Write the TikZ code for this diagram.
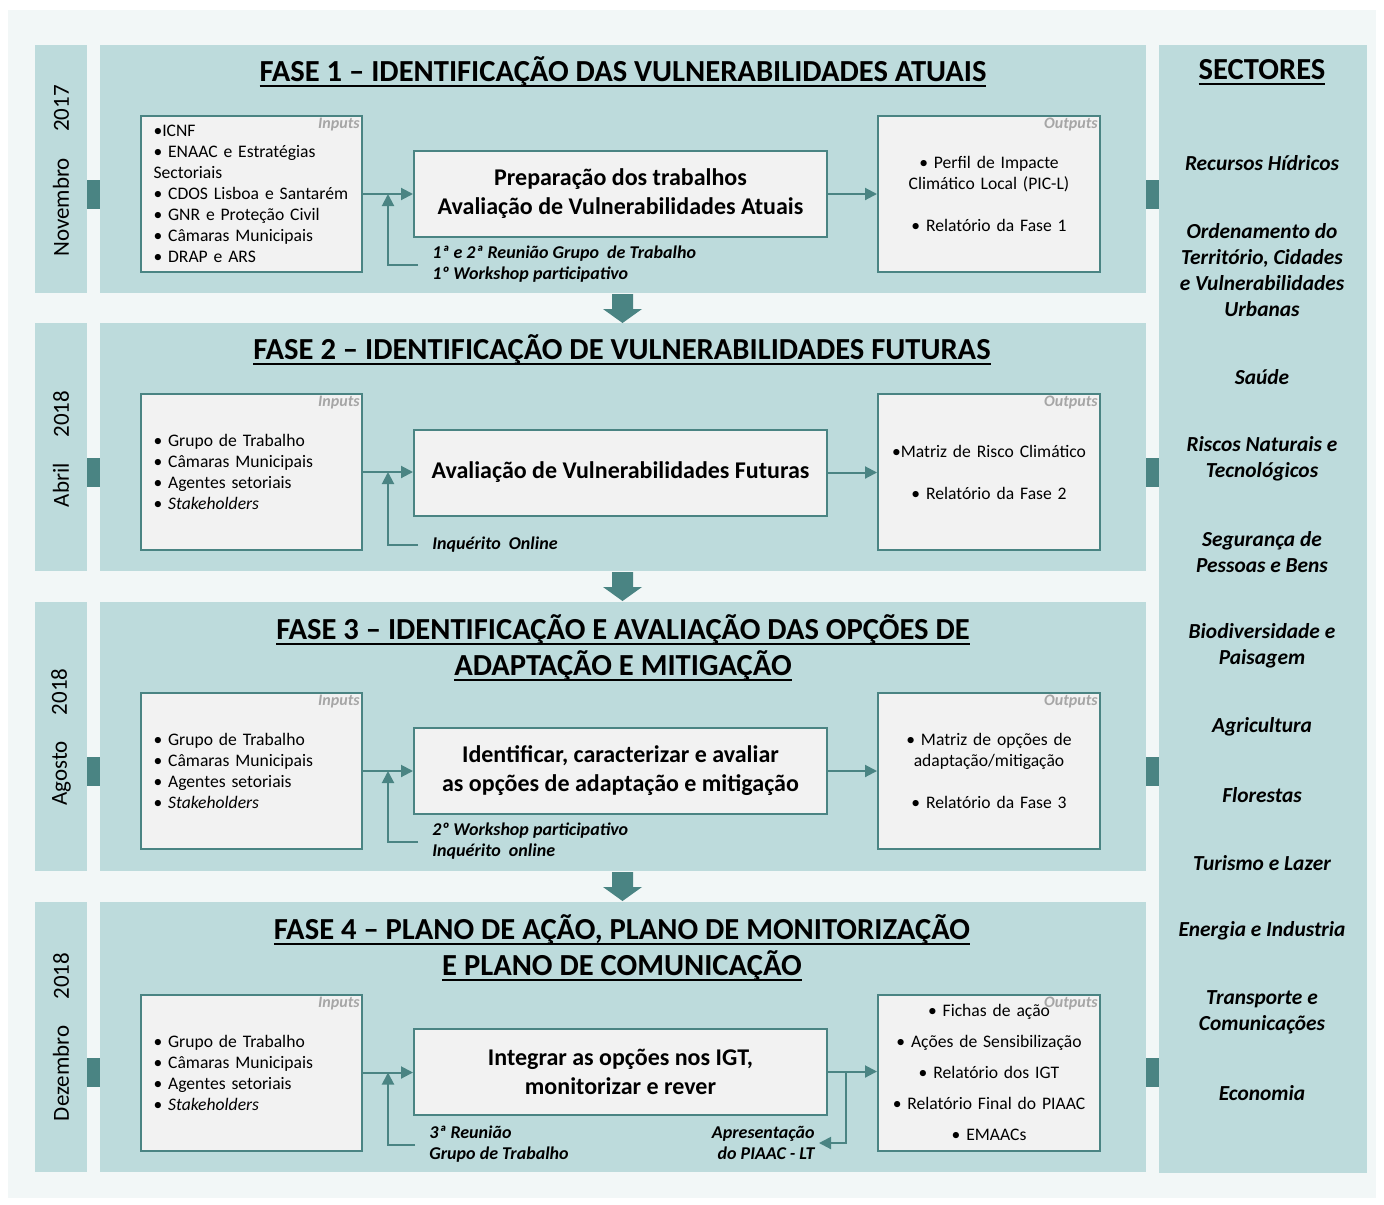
\documentclass[tikz,border=0pt]{standalone}
\usepackage{fontspec}
\setmainfont{Carlito}
\usetikzlibrary{arrows.meta,calc,positioning}

\definecolor{bgcol}{HTML}{F2F7F7}
\definecolor{panelcol}{HTML}{BDDBDC}
\definecolor{tealcol}{HTML}{4A8483}
\definecolor{boxcol}{HTML}{F2F2F2}
\definecolor{tagcol}{HTML}{A6A6A6}

\newcommand{\uln}[1]{\leavevmode\setbox0\hbox{#1}\rlap{\rule[-2.6pt]{\wd0}{1pt}}\box0}
\newcommand{\tightsp}{\spaceskip 0.17em plus 0.05em\relax}

\tikzset{
  inbox/.style={draw=tealcol, line width=1pt, fill=boxcol, minimum width=110.5pt, minimum height=78pt,
    text width=98pt, inner xsep=6.25pt, inner ysep=0pt, align=left,
    font=\fontsize{8.8}{10.5}\selectfont\tightsp},
  outbox/.style={draw=tealcol, line width=1pt, fill=boxcol, minimum width=111pt, minimum height=78pt,
    text width=105pt, inner xsep=3pt, inner ysep=0pt, align=center,
    font=\fontsize{8.8}{10.5}\selectfont\tightsp},
  midbox/.style={draw=tealcol, line width=1pt, fill=boxcol, minimum width=206.5pt, minimum height=43pt,
    align=center, font=\bfseries\fontsize{12}{14.5}\selectfont},
  tag/.style={anchor=north east, inner sep=1.5pt, text=tagcol, font=\bfseries\itshape\fontsize{8}{9}\selectfont},
  title/.style={align=center, font=\bfseries\fontsize{15.3}{18}\selectfont},
  sector/.style={align=center, font=\bfseries\itshape\fontsize{10.7}{13}\selectfont},
  date/.style={rotate=90, font=\fontsize{11.5}{13}\selectfont},
  note/.style={align=left, inner sep=2pt, font=\bfseries\itshape\fontsize{9}{10.5}\selectfont},
  flow/.style={draw=tealcol, line width=1pt, -{Triangle[length=6pt,width=6pt]}},
}

\begin{document}
\begin{tikzpicture}[x=0.5pt,y=-0.5pt]
\useasboundingbox (0,0) rectangle (1384,1204);
\fill[white] (0,0) rectangle (1384,1204);
\fill[bgcol] (8,10) rectangle (1376,1198);

\foreach \ya/\yb in {45/293, 323/571, 602/871, 902/1172}{
  \fill[panelcol] (35,\ya) rectangle (87,\yb);
  \fill[panelcol] (100,\ya) rectangle (1146,\yb);
}
\fill[panelcol] (1159,45) rectangle (1367,1173);
\foreach \y in {194,472,771,1072}{
  \fill[tealcol] (87,\y-14.5) rectangle (100,\y+14.5);
  \fill[tealcol] (1146,\y-14.5) rectangle (1159,\y+14.5);
}
\foreach \y in {294,572,872}{
  \fill[tealcol] (612,\y) -- (633,\y) -- (633,\y+15) -- (642,\y+15) -- (622.5,\y+29)
    -- (603,\y+15) -- (612,\y+15) -- cycle;
}

\node[date] (d1) at (61,171) {Novembro\hspace{13pt}2017};
\node[date] (d2) at (61,449) {Abril\hspace{13pt}2018};
\node[date] (d3) at (61,737) {Agosto\hspace{13pt}2018};
\node[date] (d4) at (61,1037) {Dezembro\hspace{13pt}2018};

\node[title] (t1) at (623,72) {\uln{FASE 1 – IDENTIFICAÇÃO DAS VULNERABILIDADES ATUAIS}};
\node[title] (t2) at (622,350) {\uln{FASE 2 – IDENTIFICAÇÃO DE VULNERABILIDADES FUTURAS}};
\node[title] (t3) at (623,648) {\uln{FASE 3 – IDENTIFICAÇÃO E AVALIAÇÃO DAS OPÇÕES DE}\\\uln{ADAPTAÇÃO E MITIGAÇÃO}};
\node[title] (t4) at (622,948) {\uln{FASE 4 – PLANO DE AÇÃO, PLANO DE MONITORIZAÇÃO}\\\uln{E PLANO DE COMUNICAÇÃO}};

% fase 1
\node[inbox] (in1) at (251.5,194) {•ICNF\\• ENAAC e Estratégias\\Sectoriais\\• CDOS Lisboa e Santarém\\• GNR e Proteção Civil\\• Câmaras Municipais\\• DRAP e ARS};
\node[tag] (tin1) at (in1.north east) {Inputs};
\node[midbox] (c1) at (620.5,194) {Preparação dos trabalhos\\Avaliação de Vulnerabilidades Atuais};
\node[outbox] (out1) at (989,194) {• Perfil de Impacte\\Climático Local (PIC-L)\\[10.5pt]• Relatório da Fase 1};
\node[tag] (tout1) at (out1.north east) {Outputs};
\node[note, anchor=west] (fb1) at (428,264.5) {1ª e 2ª Reunião Grupo\ \ de Trabalho\\1º Workshop participativo};
\draw[flow] (in1.east) -- (c1.west |- in1.east);
\draw[flow] (c1.east) -- (out1.west |- c1.east);
\draw[flow] ([xshift=-5pt]fb1.west) -| ($(in1.east)!0.5!(c1.west |- in1.east)$);

% fase 2
\node[inbox] (in2) at (251.5,472) {• Grupo de Trabalho\\• Câmaras Municipais\\• Agentes setoriais\\• \textit{Stakeholders}};
\node[tag] (tin2) at (in2.north east) {Inputs};
\node[midbox] (c2) at (620.5,472.5) {Avaliação de Vulnerabilidades Futuras};
\node[outbox] (out2) at (989,472) {•Matriz de Risco Climático\\[10.5pt]• Relatório da Fase 2};
\node[tag] (tout2) at (out2.north east) {Outputs};
\node[note, anchor=west] (fb2) at (428,545) {Inquérito\ \ Online};
\draw[flow] (in2.east) -- (c2.west |- in2.east);
\draw[flow] (c2.east) -- (out2.west |- c2.east);
\draw[flow] ([xshift=-5pt]fb2.west) -| ($(in2.east)!0.5!(c2.west |- in2.east)$);

% fase 3
\node[inbox] (in3) at (251.5,771) {• Grupo de Trabalho\\• Câmaras Municipais\\• Agentes setoriais\\• \textit{Stakeholders}};
\node[tag] (tin3) at (in3.north east) {Inputs};
\node[midbox] (c3) at (620.5,771) {Identificar, caracterizar e avaliar\\as opções de adaptação e mitigação};
\node[outbox] (out3) at (989,771) {• Matriz de opções de\\adaptação/mitigação\\[10.5pt]• Relatório da Fase 3};
\node[tag] (tout3) at (out3.north east) {Outputs};
\node[note, anchor=west] (fb3) at (428,841.5) {2º Workshop participativo\\Inquérito\ \ online};
\draw[flow] (in3.east) -- (c3.west |- in3.east);
\draw[flow] (c3.east) -- (out3.west |- c3.east);
\draw[flow] ([xshift=-5pt]fb3.west) -| ($(in3.east)!0.5!(c3.west |- in3.east)$);

% fase 4
\node[inbox] (in4) at (251.5,1072.5) {• Grupo de Trabalho\\• Câmaras Municipais\\• Agentes setoriais\\• \textit{Stakeholders}};
\node[tag] (tin4) at (in4.north east) {Inputs};
\node[midbox] (c4) at (620.5,1071.5) {Integrar as opções nos IGT,\\monitorizar e rever};
\node[outbox] (out4) at (989,1072.5) {• Fichas de ação\\[5pt]• Ações de Sensibilização\\[5pt]• Relatório dos IGT\\[5pt]• Relatório Final do PIAAC\\[5pt]• EMAACs};
\node[tag] (tout4) at (out4.north east) {Outputs};
\node[note, anchor=west] (fb4) at (425,1144.5) {3ª Reunião\\Grupo de Trabalho};
\node[note, anchor=east, align=right] (fb5) at (819,1143) {Apresentação\\do PIAAC - LT};
\draw[flow] (in4.east) -- (c4.west |- in4.east);
\draw[flow] (c4.east) -- (out4.west |- c4.east);
\draw[flow] ([xshift=-5pt]fb4.west) -| ($(in4.east)!0.5!(c4.west |- in4.east)$);
\draw[flow] ($(c4.east)!0.37!(out4.west |- c4.east)$) |- (fb5.east);

% sectores
\node[title] (st) at (1262,72) {\uln{SECTORES}};
\node[sector] (s1) at (1262,163) {Recursos Hídricos};
\node[sector] (s2) at (1262,270) {Ordenamento do\\Território, Cidades\\e Vulnerabilidades\\Urbanas};
\node[sector] (s3) at (1262,377) {Saúde};
\node[sector] (s4) at (1262,458.5) {Riscos Naturais e\\Tecnológicos};
\node[sector] (s5) at (1262,552.5) {Segurança de\\Pessoas e Bens};
\node[sector] (s6) at (1262,645.5) {Biodiversidade e\\Paisagem};
\node[sector] (s7) at (1262,727) {Agricultura};
\node[sector] (s8) at (1262,795) {Florestas};
\node[sector] (s9) at (1262,863) {Turismo e Lazer};
\node[sector] (s10) at (1262,931) {Energia e Industria};
\node[sector] (s11) at (1262,1012) {Transporte e\\Comunicações};
\node[sector] (s12) at (1262,1093) {Economia};
\end{tikzpicture}
\end{document}
